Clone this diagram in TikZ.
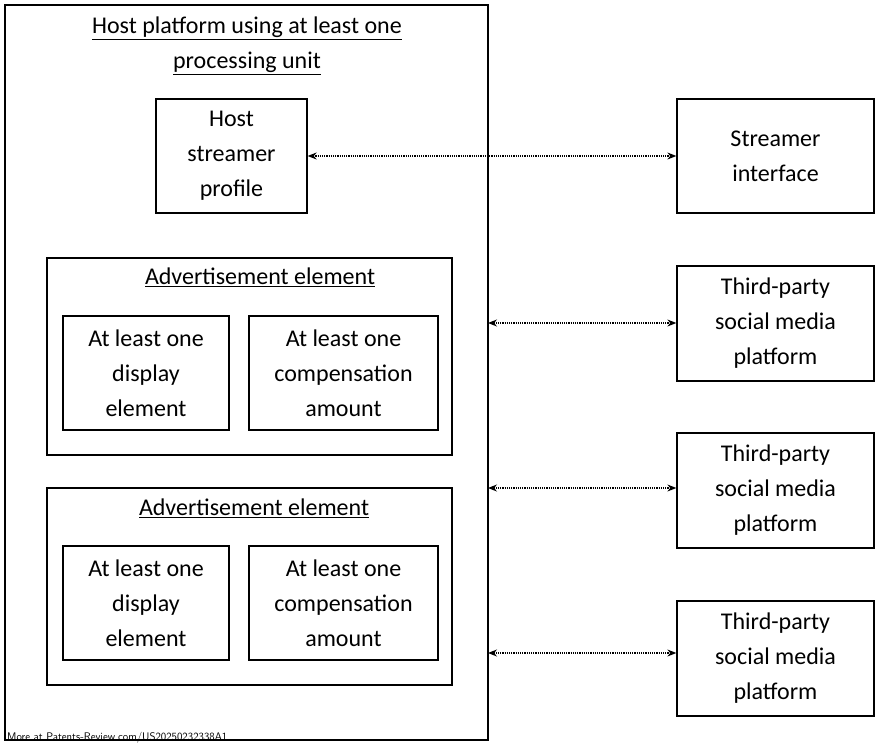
\documentclass[tikz,border=0pt]{standalone}
\usepackage{fontspec}
\setmainfont{Carlito}
\usetikzlibrary{arrows.meta}
\begin{document}
\begin{tikzpicture}[x=1pt,y=-1pt,
  txt/.style={font=\fontsize{24}{35}\selectfont,align=center},
  box/.style={draw,line width=1.3pt,txt,inner sep=0pt},
  link/.style={densely dotted,line width=1.2pt,{Stealth[length=9pt,width=7pt]}-{Stealth[length=9pt,width=7pt]}}]
\useasboundingbox (0,0) rectangle (880,754);
\newcommand{\bx}[5]{\node[box,minimum width=#4-#2,minimum height=#5-#3] (#1) at ({(#2+#4)/2},{(#3+#5)/2}) {};}
\bx{outer}{5}{5}{488}{740}
\node[txt] (title) at (247,46) {\underline{Host platform using at least one}\\\underline{processing unit}};
\bx{hsp}{156}{99}{307}{213}
\node[txt] at (hsp) {Host\\streamer\\profile};
\bx{ad1}{47}{258}{452}{455}
\node[txt] (ad1t) at (260,277) {\underline{Advertisement element}};
\bx{d1}{63}{316}{229}{430}
\node[txt] at (d1) {At least one\\display\\element};
\bx{c1}{249}{316}{438}{430}
\node[txt] at (c1) {At least one\\compensation\\amount};
\bx{ad2}{47}{488}{452}{685}
\node[txt] (ad2t) at (254,508) {\underline{Advertisement element}};
\bx{d2}{63}{546}{229}{660}
\node[txt] at (d2) {At least one\\display\\element};
\bx{c2}{249}{546}{438}{660}
\node[txt] at (c2) {At least one\\compensation\\amount};
\bx{si}{677}{99}{874}{213}
\node[txt] at (si) {Streamer\\interface};
\bx{t1}{677}{266}{874}{381}
\node[txt] at (t1) {Third-party\\social media\\platform};
\bx{t2}{677}{433}{874}{548}
\node[txt] at (t2) {Third-party\\social media\\platform};
\bx{t3}{677}{601}{874}{716}
\node[txt] at (t3) {Third-party\\social media\\platform};
\coordinate (o1) at (488,323);
\coordinate (o2) at (488,488);
\coordinate (o3) at (488,653);
\draw[link] (hsp.east) -- (si.west);
\draw[link] (o1) -- (t1.west|-o1);
\draw[link] (o2) -- (t2.west|-o2);
\draw[link] (o3) -- (t3.west|-o3);
\node[anchor=west,font=\fontsize{11}{13}\selectfont\sffamily,inner sep=0pt] (foot) at (7,738) {More at Patents-Review.com/US20250232338A1};
\end{tikzpicture}
\end{document}
